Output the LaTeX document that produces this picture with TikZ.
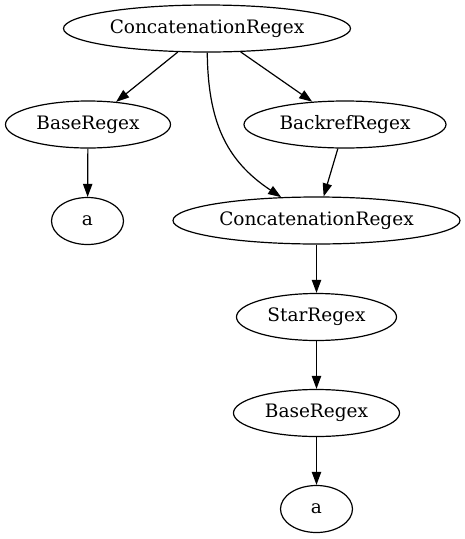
\documentclass[tikz,border=0pt]{standalone}
\usepackage{fontspec}
\setmainfont{DejaVu Serif}
\usetikzlibrary{shapes.geometric,arrows.meta}
\begin{document}
\begin{tikzpicture}[x=1pt,y=-1pt,
  gnode/.style={ellipse,draw,line width=1.2pt,minimum height=47pt,inner sep=0pt,
    font=\fontsize{18.5}{22}\selectfont},
  edge/.style={line width=1.2pt,-{Triangle[length=13pt,width=9.3pt]}}]
\useasboundingbox (0,0) rectangle (464,539);
\node[gnode,minimum width=287pt] (top) at (207,28.5) {ConcatenationRegex};
\node[gnode,minimum width=165pt] (b1) at (88,124.5) {BaseRegex};
\node[gnode,minimum width=72pt] (a1) at (87.5,221) {a};
\node[gnode,minimum width=202pt] (br) at (345,124.5) {BackrefRegex};
\node[gnode,minimum width=287pt] (c2) at (316.5,220.5) {ConcatenationRegex};
\node[gnode,minimum width=160pt] (st) at (316.5,317) {StarRegex};
\node[gnode,minimum width=166pt] (b2) at (316.5,413) {BaseRegex};
\node[gnode,minimum width=72pt] (a2) at (316.5,509) {a};
\draw[edge] (top) -- (b1);
\draw[edge] (top) -- (br);
\draw[edge] (top) .. controls (208,120) and (225,160) .. (c2);
\draw[edge] (b1) -- (a1);
\draw[edge] (br) -- (c2);
\draw[edge] (c2) -- (st);
\draw[edge] (st) -- (b2);
\draw[edge] (b2) -- (a2);
\end{tikzpicture}
\end{document}
